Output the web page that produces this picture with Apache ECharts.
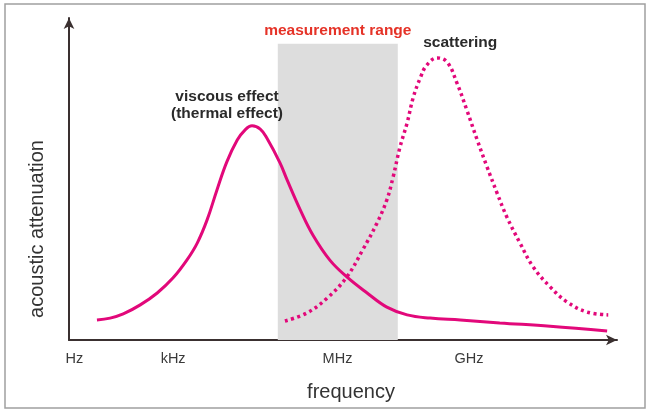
<!DOCTYPE html>
<html>
<head>
<meta charset="utf-8">
<script src="https://cdn.jsdelivr.net/npm/echarts@6/dist/echarts.min.js"></script>
<style>
  html, body { margin: 0; padding: 0; background: #fff; }
  #main { width: 654px; height: 411px; }
</style>
</head>
<body>
<div id="main"></div>
<script>
// 频率轴刻度 (示意图, 非线性位置)
var tickPos = [1, 19, 49, 73];
var tickLabels = ['Hz', 'kHz', 'MHz', 'GHz'];

// 测量范围
var rangeStart = 38.1;
var rangeEnd = 60.0;
var rangeTop = 92;

// 粘滞效应 (热效应)
var viscousX = [5.1, 7.5, 9.9, 13.0, 16.1, 19.0, 21.5, 23.4, 25.2, 27.0, 28.8, 30.7, 32.1, 33.4, 34.9, 36.1, 38.5, 39.8, 42.2, 44.5, 47.6, 50.7, 54.4, 58.0, 61.7, 65.9, 71.4, 78.6, 87.8, 98.2];
var viscousY = [6.2, 6.8, 8.1, 10.9, 14.6, 19.3, 24.8, 30.1, 37.3, 46.6, 55.3, 62.1, 65.2, 66.5, 65.5, 62.7, 55.0, 49.7, 40.4, 32.6, 24.8, 19.6, 14.6, 10.2, 7.8, 6.8, 6.2, 5.3, 4.3, 2.8];

// 散射
var scatterX = [39.4, 43.4, 47.1, 50.7, 53.6, 56.2, 58.0, 59.1, 60.4, 61.7, 62.8, 64.1, 65.3, 67.2, 69.0, 70.8, 72.6, 74.5, 76.3, 78.1, 79.9, 82.3, 84.7, 87.8, 90.9, 94.5, 98.4];
var scatterY = [5.9, 8.4, 13.0, 19.6, 28.0, 36.3, 43.5, 50.3, 59.9, 67.4, 75.2, 81.4, 85.4, 87.6, 86.3, 79.8, 71.4, 62.1, 53.7, 45.7, 38.2, 30.1, 22.7, 16.5, 11.8, 8.7, 7.8];

var zip = function (xs, ys) {
    var data = [];
    for (let i in xs) {
        data.push([xs[i], ys[i]]);
    }
    return data;
};

var peakOf = function (xs, ys) {
    var k = 0;
    for (let i in ys) {
        if (ys[i] > ys[k]) k = i;
    }
    return [xs[k], ys[k]];
};

var font = '"Liberation Sans", Arial, sans-serif';
var magenta = '#e2087a';
var axisColor = '#3a3030';

var my_chart = echarts.init(document.getElementById('main'), null, { renderer: 'canvas' });
var option = {
    backgroundColor: '#fff',
    animation: false,
    textStyle: { fontFamily: font },
    graphic: [{
        type: 'rect',
        shape: { x: 5, y: 4, width: 640, height: 404 },
        style: { fill: 'none', stroke: '#a0a0a0', lineWidth: 1.5 },
        silent: true
    }],
    grid: { left: 69, right: 37, top: 18, bottom: 71 },
    xAxis: {
        type: 'value',
        min: 0,
        max: 100,
        interval: 1,
        name: 'frequency',
        nameLocation: 'middle',
        nameGap: 42,
        nameTextStyle: { fontSize: 20, color: '#333', padding: [0, 0, 0, 16] },
        splitLine: { show: false },
        axisTick: { show: false },
        axisLine: {
            show: true,
            symbol: ['none', 'arrow'],
            symbolSize: [8, 11],
            lineStyle: { color: axisColor, width: 2 }
        },
        axisLabel: {
            margin: 11,
            fontSize: 14.5,
            color: '#3a3a3a',
            formatter: function (v) {
                var i = tickPos.indexOf(v);
                return i >= 0 ? tickLabels[i] : '';
            }
        }
    },
    yAxis: {
        type: 'value',
        min: 0,
        max: 100,
        name: 'acoustic attenuation',
        nameLocation: 'middle',
        nameGap: 22,
        nameTextStyle: { fontSize: 20, color: '#333', padding: [0, 100, 0, 0] },
        splitLine: { show: false },
        axisTick: { show: false },
        axisLabel: { show: false },
        axisLine: {
            show: true,
            symbol: ['none', 'arrow'],
            symbolSize: [8, 11],
            lineStyle: { color: axisColor, width: 2 }
        }
    },
    series: [
        {
            name: 'viscous effect',
            type: 'line',
            smooth: 0.4,
            showSymbol: false,
            z: 3,
            lineStyle: { color: magenta, width: 3 },
            data: zip(viscousX, viscousY),
            markArea: {
                silent: true,
                itemStyle: { color: '#dddddd' },
                label: {
                    show: true,
                    position: 'top',
                    distance: 5,
                    color: '#e53227',
                    fontWeight: 'bold',
                    fontSize: 15.5
                },
                data: [[
                    { name: 'measurement range', xAxis: rangeStart, yAxis: 0 },
                    { xAxis: rangeEnd, yAxis: rangeTop }
                ]]
            },
            markPoint: {
                symbol: 'circle',
                symbolSize: 0,
                silent: true,
                label: {
                    show: true,
                    position: 'inside',
                    offset: [-25, -21],
                    color: '#2a2a2a',
                    fontWeight: 'bold',
                    fontSize: 15.5,
                    lineHeight: 17,
                    formatter: 'viscous effect\n(thermal effect)'
                },
                data: [{ coord: peakOf(viscousX, viscousY) }]
            }
        },
        {
            name: 'scattering',
            type: 'line',
            smooth: 0.4,
            showSymbol: false,
            z: 3,
            lineStyle: { color: magenta, width: 3.5, type: [3, 3.5] },
            data: zip(scatterX, scatterY),
            markPoint: {
                symbol: 'circle',
                symbolSize: 0,
                silent: true,
                label: {
                    show: true,
                    position: 'inside',
                    offset: [23, -15],
                    color: '#2a2a2a',
                    fontWeight: 'bold',
                    fontSize: 15.5,
                    formatter: 'scattering'
                },
                data: [{ coord: peakOf(scatterX, scatterY) }]
            }
        }
    ]
};
my_chart.setOption(option);
</script>
</body>
</html>
